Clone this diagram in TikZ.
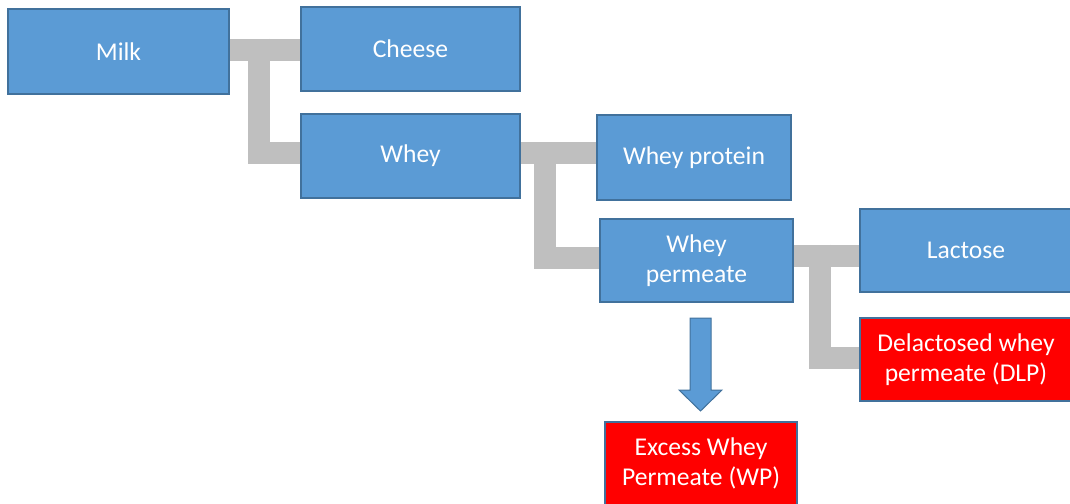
\documentclass[tikz,border=0pt]{standalone}
\usepackage{fontspec}
\setmainfont{Carlito}
\usetikzlibrary{calc}
\definecolor{boxblue}{HTML}{5B9BD5}
\definecolor{edgeblue}{HTML}{41719C}
\definecolor{boxred}{HTML}{FF0000}
\definecolor{conngray}{HTML}{BFBFBF}
\tikzset{
  box/.style={draw=edgeblue, line width=0.7pt, fill=boxblue, text=white, align=center,
    inner sep=0pt, font=\fontsize{12.8pt}{15pt}\selectfont},
  redbox/.style={box, fill=boxred},
  conn/.style={draw=conngray, line width=11pt, line join=miter, line cap=butt},
}
\begin{document}
\begin{tikzpicture}[x=0.5pt, y=-0.5pt]
\useasboundingbox (0,0) rectangle (1070,503);
\node[box, minimum width=110.5pt, minimum height=42pt] (milk) at (118.5,51.5) {Milk};
\node[box, minimum width=109.5pt, minimum height=41.5pt] (cheese) at (410.5,49) {Cheese};
\node[box, minimum width=109.5pt, minimum height=41.5pt] (whey) at (410.5,156) {Whey};
\node[box, minimum width=97pt, minimum height=42pt] (wprot) at (694,157.5) {Whey protein};
\node[box, minimum width=96.5pt, minimum height=41.5pt] (wperm) at (696.5,260.5) {Whey\\permeate};
\node[box, minimum width=106pt, minimum height=41pt] (lact) at (966,250.5) {Lactose};
\node[redbox, minimum width=106pt, minimum height=41.5pt] (dlp) at (966,359.5) {Delactosed whey\\permeate (DLP)};
\node[redbox, minimum width=96pt, minimum height=41.5pt] (ewp) at (701,463.5) {Excess Whey\\Permeate (WP)};
% connectors
\coordinate (j1) at (259,49.5);
\coordinate (j2) at (545,153);
\coordinate (j3) at (820,255.5);
\draw[conn] (milk.east |- j1) -- (cheese.west |- j1);
\draw[conn] ($(j1)+(0,-11)$) -- (259,153) -- (whey.west |- 0,153);
\draw[conn] (whey.east |- j2) -- (wprot.west |- j2);
\draw[conn] ($(j2)+(0,-11)$) -- (545,258) -- (wperm.west |- 0,258);
\draw[conn] (wperm.east |- j3) -- (lact.west |- j3);
\draw[conn] ($(j3)+(0,-11)$) -- (820,358) -- (dlp.west |- 0,358);
% redraw borders on top of connectors
\foreach \n in {milk,cheese,whey,wprot,wperm,lact,dlp}
  \draw[draw=edgeblue, line width=0.7pt] (\n.north west) rectangle (\n.south east);
% block arrow
\filldraw[fill=boxblue, draw=edgeblue, line width=0.5pt]
  (690,318) -- (711,318) -- (711,390) -- (722,390) -- (700.5,411) -- (679,390) -- (690,390) -- cycle;
\end{tikzpicture}
\end{document}
